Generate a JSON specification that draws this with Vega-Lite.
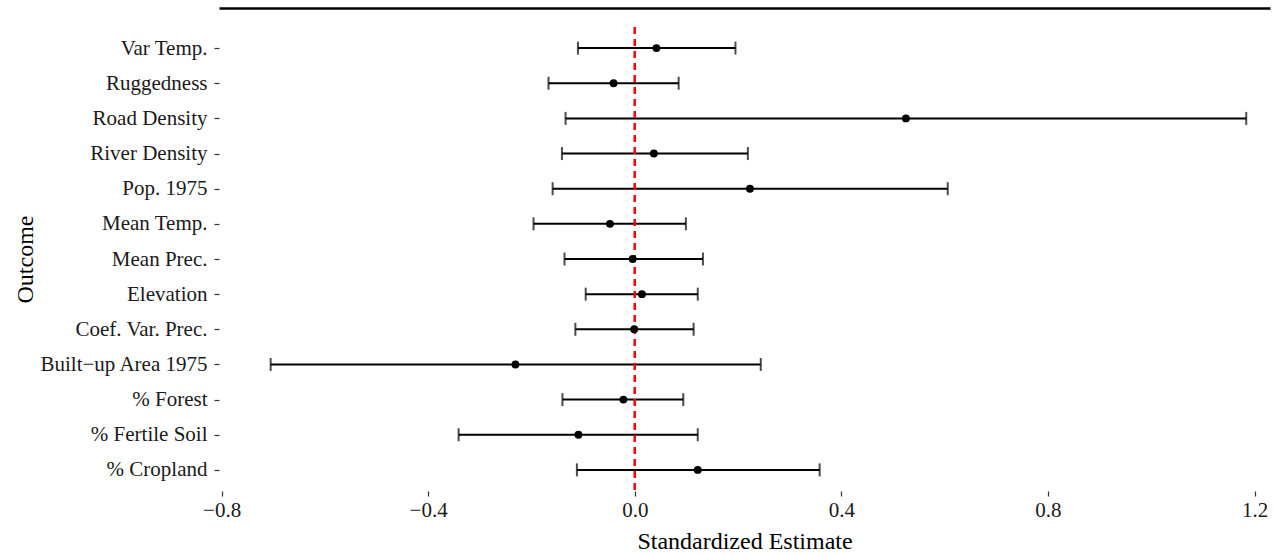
{
  "$schema": "https://vega.github.io/schema/vega-lite/v6.json",
  "autosize": "none",
  "width": 1051,
  "height": 464,
  "padding": {"left": 219, "top": 27, "right": 5, "bottom": 65},
  "background": "white",
  "config": {
    "view": {"stroke": null},
    "font": "Liberation Serif",
    "axis": {"labelFont": "Liberation Serif", "titleFont": "Liberation Serif", "labelColor": "#1a1a1a", "titleColor": "black", "labelFontSize": 21, "titleFontSize": 24, "titleFontWeight": "normal", "grid": false, "tickColor": "#333333", "tickSize": 5, "tickWidth": 1.2, "domain": false}
  },
  "data": {"values": [
    {"outcome": "Var Temp.", "est": 0.042, "lo": -0.110, "hi": 0.195},
    {"outcome": "Ruggedness", "est": -0.041, "lo": -0.167, "hi": 0.085},
    {"outcome": "Road Density", "est": 0.525, "lo": -0.134, "hi": 1.184},
    {"outcome": "River Density", "est": 0.037, "lo": -0.141, "hi": 0.219},
    {"outcome": "Pop. 1975", "est": 0.223, "lo": -0.159, "hi": 0.606},
    {"outcome": "Mean Temp.", "est": -0.048, "lo": -0.196, "hi": 0.099},
    {"outcome": "Mean Prec.", "est": -0.004, "lo": -0.136, "hi": 0.132},
    {"outcome": "Elevation", "est": 0.014, "lo": -0.095, "hi": 0.122},
    {"outcome": "Coef. Var. Prec.", "est": -0.001, "lo": -0.115, "hi": 0.114},
    {"outcome": "Built\u2212up Area 1975", "est": -0.231, "lo": -0.705, "hi": 0.244},
    {"outcome": "% Forest", "est": -0.022, "lo": -0.140, "hi": 0.094},
    {"outcome": "% Fertile Soil", "est": -0.109, "lo": -0.341, "hi": 0.122},
    {"outcome": "% Cropland", "est": 0.122, "lo": -0.112, "hi": 0.358}
  ]},
  "encoding": {
    "y": {
      "field": "outcome", "type": "nominal",
      "sort": ["Var Temp.", "Ruggedness", "Road Density", "River Density", "Pop. 1975", "Mean Temp.", "Mean Prec.", "Elevation", "Coef. Var. Prec.", "Built\u2212up Area 1975", "% Forest", "% Fertile Soil", "% Cropland"],
      "scale": {"type": "point", "padding": 0.6},
      "axis": {"title": "Outcome", "labelPadding": 7, "titlePadding": 1}
    }
  },
  "layer": [
    {
      "mark": {"type": "rule", "color": "black", "strokeWidth": 2},
      "encoding": {
        "x": {"field": "lo", "type": "quantitative",
          "scale": {"domain": [-0.805, 1.23], "nice": false, "zero": false},
          "axis": {"title": "Standardized Estimate", "values": [-0.8, -0.4, 0, 0.4, 0.8, 1.2], "format": ".1f", "labelExpr": "replace(datum.label, '-', '\u2212')", "labelPadding": 3, "titlePadding": 9}},
        "x2": {"field": "hi"}
      }
    },
    {
      "mark": {"type": "rule", "color": "black", "strokeWidth": 3},
      "encoding": {
        "x": {"field": "lo", "type": "quantitative",
          "axis": {"orient": "top", "domain": true, "domainColor": "black", "domainWidth": 2.5, "offset": 19, "ticks": false, "labels": false, "title": null}},
        "opacity": {"value": 0}
      }
    },
    {
      "mark": {"type": "tick", "color": "black", "size": 13, "thickness": 2, "orient": "vertical"},
      "encoding": {"x": {"field": "lo", "type": "quantitative", "axis": null}}
    },
    {
      "mark": {"type": "tick", "color": "black", "size": 13, "thickness": 2, "orient": "vertical"},
      "encoding": {"x": {"field": "hi", "type": "quantitative", "axis": null}}
    },
    {
      "mark": {"type": "rule", "color": "#ff0000", "strokeWidth": 1.6, "strokeDash": [7, 5]},
      "encoding": {"x": {"datum": 0, "type": "quantitative", "axis": null}, "y": null}
    },
    {
      "mark": {"type": "circle", "color": "black", "opacity": 1, "size": 62},
      "encoding": {"x": {"field": "est", "type": "quantitative", "axis": null}}
    }
  ],
  "resolve": {"axis": {"x": "independent"}}
}
